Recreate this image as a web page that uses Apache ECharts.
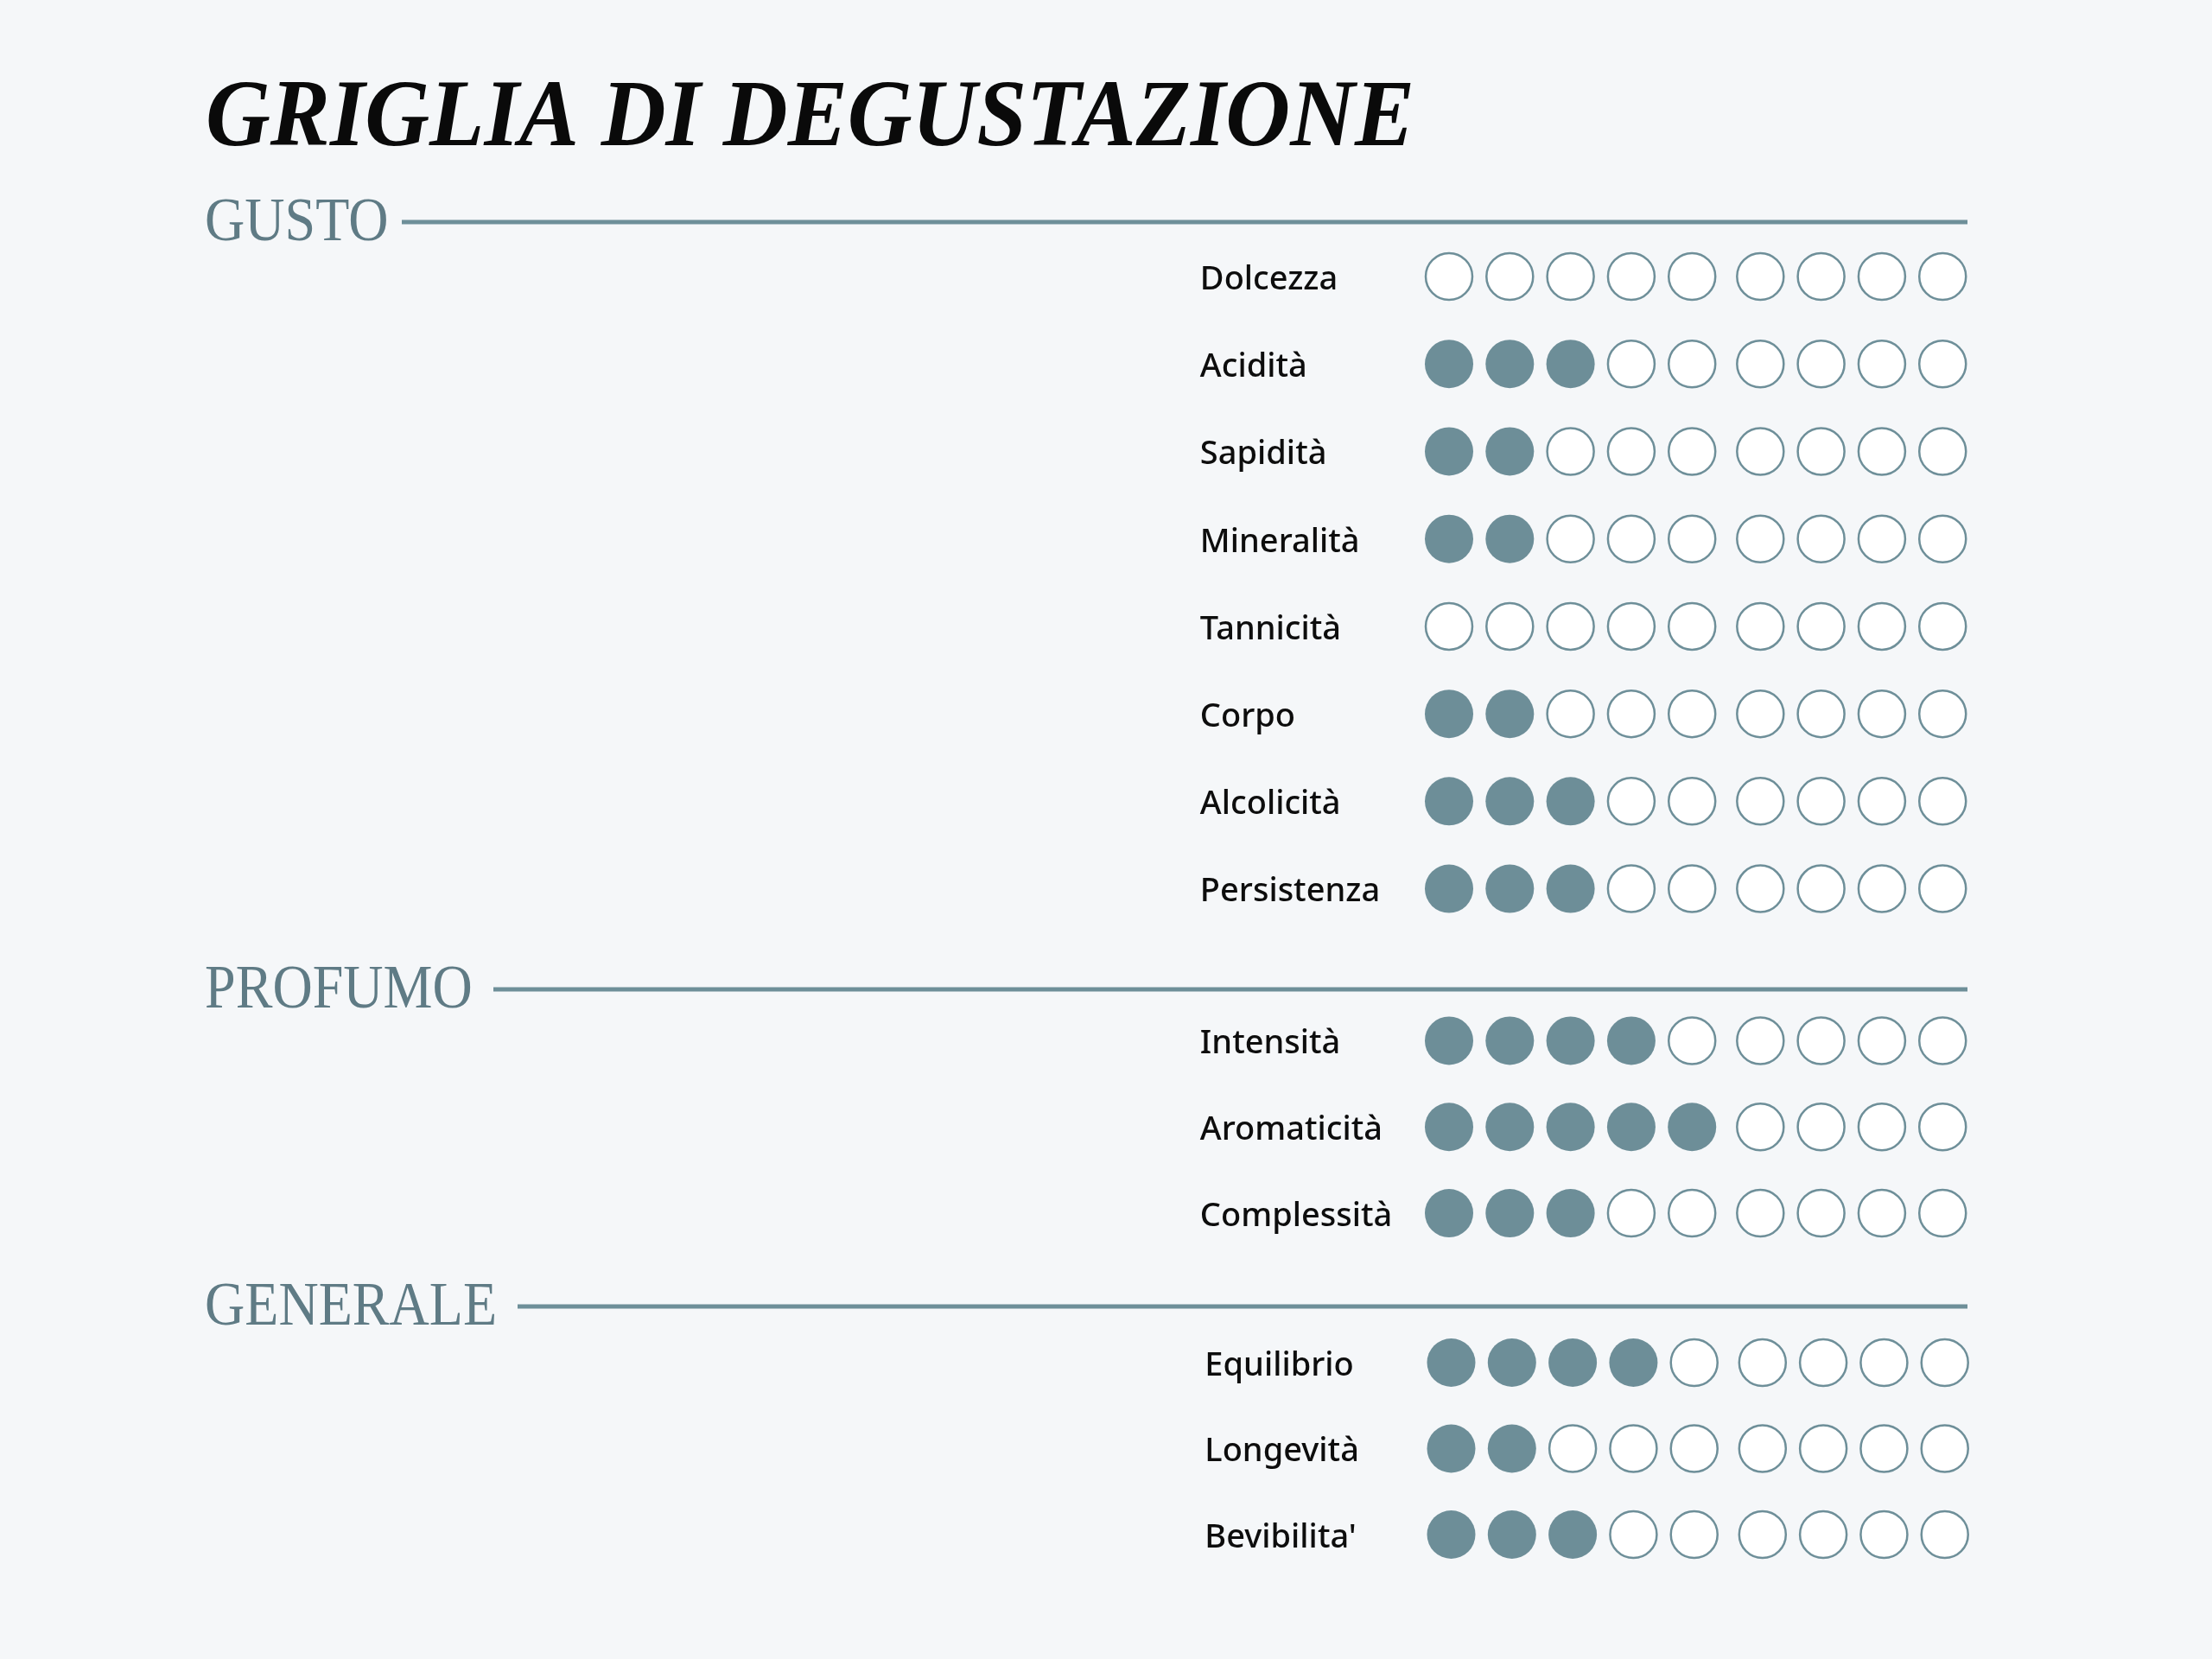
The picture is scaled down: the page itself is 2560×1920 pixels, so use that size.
<!DOCTYPE html>
<html>
<head>
<meta charset="utf-8">
<script src="https://cdn.jsdelivr.net/npm/echarts@6/dist/echarts.min.js"></script>
<style>
html,body{margin:0;padding:0;background:#f5f7f9;}
#chart{width:2560px;height:1920px;}
</style>
</head>
<body>
<div id="chart"></div>
<script>
// ---- Data ----
const titleText = 'GRIGLIA DI DEGUSTAZIONE';
const sectionNames = ['GUSTO', 'PROFUMO', 'GENERALE'];
const scaleSteps = 9;

const gustoLabels = ['Dolcezza', 'Acidità', 'Sapidità', 'Mineralità', 'Tannicità', 'Corpo', 'Alcolicità', 'Persistenza'];
const gustoScores = [0, 3, 2, 2, 0, 2, 3, 3];

const profumoLabels = ['Intensità', 'Aromaticità', 'Complessità'];
const profumoScores = [4, 5, 3];

const generaleLabels = ['Equilibrio', 'Longevità', "Bevibilita'"];
const generaleScores = [4, 2, 3];

// ---- Styles ----
const FILL = '#6d8e98';
const SECTION = '#5f7b85';
const LINE = '#6e8f99';

function slotPos(i) { return i + (i >= 5 ? 0.125 : 0); }

function build(scores, filled) {
  const out = [];
  scores.forEach((s, r) => {
    for (let i = 0; i < scaleSteps; i++) {
      if ((i < s) === filled) out.push([slotPos(i), r]);
    }
  });
  return out;
}

const sections = [
  { labels: gustoLabels, scores: gustoScores, top: 269.4, height: 809.8, left: 1641.85, margin: 253 },
  { labels: profumoLabels, scores: profumoScores, top: 1154.6, height: 299.3, left: 1641.85, margin: 253 },
  { labels: generaleLabels, scores: generaleScores, top: 1527.25, height: 298.5, left: 1644.35, margin: 250 }
];

const grids = [], xAxes = [], yAxes = [], series = [];
sections.forEach((s, k) => {
  grids.push({ left: s.left, width: 646.8, top: s.top, height: s.height, containLabel: false });
  xAxes.push({ type: 'value', gridIndex: k, min: -0.5, max: 8.7, show: false });
  yAxes.push({
    type: 'category', gridIndex: k, data: s.labels, inverse: true, boundaryGap: true,
    axisLine: { show: false }, axisTick: { show: false }, splitLine: { show: false },
    axisLabel: { align: 'left', verticalAlign: 'top', lineHeight: 8, margin: s.margin,
      fontFamily: 'Noto Sans', fontWeight: 500, fontSize: 38, color: '#0d0d0d' }
  });
  series.push({
    type: 'scatter', xAxisIndex: k, yAxisIndex: k, data: build(s.scores, true),
    symbol: 'circle', symbolSize: 56, silent: true,
    itemStyle: { color: FILL, opacity: 1 }
  });
  series.push({
    type: 'scatter', xAxisIndex: k, yAxisIndex: k, data: build(s.scores, false),
    symbol: 'circle', symbolSize: 54, silent: true,
    itemStyle: { color: '#ffffff', borderColor: LINE, borderWidth: 2.5, opacity: 1 }
  });
});

const headerY = [257, 1145, 1512];
const lineStart = [465, 571, 599];
const graphics = [
  {
    type: 'text', x: 238, y: 140, scaleX: 0.942,
    style: { text: titleText, fontFamily: 'Liberation Serif', fontStyle: 'italic', fontWeight: 'bold',
      fontSize: 110, fill: '#0a0a0a', textAlign: 'left', textVerticalAlign: 'middle' }
  }
];
sectionNames.forEach((name, k) => {
  graphics.push({
    type: 'text', x: 237, y: headerY[k] + 2, scaleX: 0.89,
    style: { text: name, fontFamily: 'Liberation Serif', fontSize: 72, fill: SECTION,
      textAlign: 'left', textVerticalAlign: 'middle' }
  });
  graphics.push({
    type: 'line', shape: { x1: lineStart[k], y1: headerY[k], x2: 2277, y2: headerY[k] },
    style: { stroke: LINE, lineWidth: 5 }
  });
});

const chart = echarts.init(document.getElementById('chart'), null, { renderer: 'canvas' });
chart.setOption({
  backgroundColor: '#f5f7f9',
  animation: false,
  grid: grids,
  xAxis: xAxes,
  yAxis: yAxes,
  series: series,
  graphic: graphics
});
</script>
</body>
</html>
